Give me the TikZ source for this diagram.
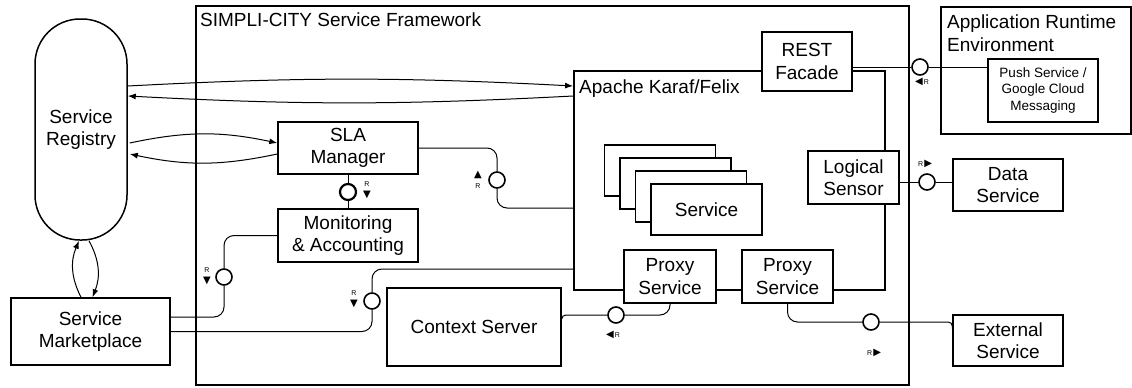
\documentclass[tikz,border=0pt]{standalone}
\usepackage{fontspec}
\setmainfont{Liberation Sans}
\newfontfamily\symfont{DejaVu Sans}
\usetikzlibrary{arrows.meta}

% small direction marks next to the interfaces
\newcommand{\tridown}{{\symfont\fontsize{10}{10}\selectfont ▼}}
\newcommand{\triup}{{\symfont\fontsize{10}{10}\selectfont ▲}}
\newcommand{\trileft}{{\symfont\fontsize{10}{10}\selectfont ◀}}
\newcommand{\triright}{{\symfont\fontsize{10}{10}\selectfont ▶}}

\begin{document}
\begin{tikzpicture}[x=1pt,y=-1pt,
        font=\fontsize{19}{22.5}\selectfont,
        box/.style={draw, line width=1.5pt, fill=white, align=center, inner sep=0pt},
        iface/.style={draw, circle, line width=1.6pt, fill=white, minimum size=16pt, inner sep=0pt},
        link/.style={line width=1pt, rounded corners=10pt},
        call/.style={line width=1pt, -{Latex[length=8pt,width=6pt]}},
        rtag/.style={inner sep=0pt, align=center, font=\fontsize{7}{7}\selectfont},
    ]
    \useasboundingbox (0,0) rectangle (1132,388);

    % framework and outside parts
    \node[box, line width=2pt, minimum width=713pt, minimum height=379pt] (frame) at (552.5,195.5) {};
    \node[anchor=base west, inner sep=0pt] (frametitle) at (200,27) {SIMPLI-CITY Service Framework};

    \node[box, rounded corners=45pt, minimum width=92pt, minimum height=221pt] (registry) at (81,129.5) {Service\\Registry};
    \node[box, minimum width=159pt, minimum height=67pt] (market) at (90.5,331.5) {Service\\Marketplace};

    \node[box, line width=1.2pt, minimum width=190pt, minimum height=127pt] (runtime) at (1036,70.5) {};
    \node[anchor=north west, align=left, inner sep=0pt] (runtimetitle) at (947,15) {Application Runtime\\Environment};
    \node[box, line width=1.2pt, minimum width=110pt, minimum height=63pt, font=\fontsize{13.5}{16.7}\selectfont] (push) at (1043,90.5) {Push Service /\\Google Cloud\\Messaging};

    \node[box, minimum width=110pt, minimum height=52pt] (data) at (1008,185) {Data\\Service};
    \node[box, minimum width=110pt, minimum height=51pt] (external) at (1008,340.5) {External\\Service};

    % osgi container
    \node[box, line width=1.8pt, minimum width=311pt, minimum height=219pt] (karaf) at (729.5,180.5) {};
    \node[anchor=base west, inner sep=0pt] (karaftitle) at (579,93) {Apache Karaf/Felix};

    \node[box, minimum width=111pt, minimum height=51pt] (svcA) at (660,170.5) {};
    \node[box, minimum width=111pt, minimum height=51pt] (svcB) at (675.5,183.5) {};
    \node[box, minimum width=111pt, minimum height=51pt] (svcC) at (691,196.5) {};
    \node[box, minimum width=111pt, minimum height=51pt] (svcD) at (706.5,209.5) {Service};

    \node[box, minimum width=90pt, minimum height=59pt] (rest) at (807,61.5) {REST\\Facade};
    \node[box, minimum width=91pt, minimum height=53pt] (sensor) at (853.5,177.5) {Logical\\Sensor};
    \node[box, minimum width=92pt, minimum height=53pt] (proxyA) at (670,276.5) {Proxy\\Service};
    \node[box, minimum width=91pt, minimum height=53pt] (proxyB) at (787.5,276.5) {Proxy\\Service};

    % framework components
    \node[box, minimum width=140pt, minimum height=52pt] (sla) at (348,148) {SLA\\Manager};
    \node[box, minimum width=140pt, minimum height=53pt] (monitor) at (348,235.5) {Monitoring\\\& Accounting};
    \node[box, minimum width=174pt, minimum height=78pt] (context) at (474,327) {Context Server};

    % interfaces
    \node[iface] (iRest) at (920,67) {};
    \node[iface, line width=2.2pt] (iSla) at (348,192) {};
    \node[iface] (iKaraf) at (497,180) {};
    \node[iface] (iMon) at (224,277) {};
    \node[iface] (iMkt) at (372,301) {};
    \node[iface] (iCtx) at (616,315) {};
    \node[iface] (iExt) at (871,322) {};
    \node[iface] (iData) at (927,182) {};

    \node[rtag] (tRest) at (922,82) {\trileft\,R};
    \node[rtag] (tSla) at (367,190) {R\\[4pt]\tridown};
    \node[rtag] (tKaraf) at (478,180) {\triup\\[4pt]R};
    \node[rtag] (tMon) at (207,276) {R\\[4pt]\tridown};
    \node[rtag] (tMkt) at (354,299) {R\\[4pt]\tridown};
    \node[rtag] (tCtx) at (613,335) {\trileft\,R};
    \node[rtag] (tExt) at (874,353) {R\,\triright};
    \node[rtag] (tData) at (925,164) {R\,\triright};

    % wiring
    \draw[link] (rest.east |- iRest) -- (iRest) -- (push.west |- iRest);
    \draw[link] (sensor.east |- iData) -- (iData) -- (data.west |- iData);
    \draw[link] (sla) -- (iSla) -- (monitor);
    \draw[link] (sla.east) -| (iKaraf);
    \draw[link] (iKaraf) |- ([yshift=-27.5pt]karaf.west);
    \draw[link] (monitor.west) -| (iMon);
    \draw[link] (iMon) |- ([yshift=14.5pt]market.east);
    \draw[link] (market.east) -| (iMkt);
    \draw[link] (iMkt) |- ([yshift=-88.5pt]karaf.west);
    \draw[link, rounded corners=4pt] ([yshift=8pt]context.east) -- (context.east |- iCtx) -- (iCtx);
    \draw[link] (iCtx) -| (proxyA);
    \draw[link] (proxyB) |- (iExt);
    \draw[link, rounded corners=4pt] (iExt) -- (external.west |- iExt) -- ([yshift=12pt]external.west);

    % registry lookups
    \draw[call] ([yshift=43.5pt]registry.east) to[bend left=3] ([yshift=94.5pt]karaf.west);
    \draw[call] ([yshift=84.5pt]karaf.west) to[bend left=3] ([yshift=33.5pt]registry.east);
    \draw[call] ([xshift=2pt,yshift=-13.5pt]registry.east) to[bend left=12] ([yshift=5pt]sla.west);
    \draw[call] ([yshift=-6pt]sla.west) to[bend left=12] ([xshift=2pt,yshift=-24.5pt]registry.east);
    \draw[call] ([xshift=-9.5pt]market.north) to[bend left=25] ([xshift=-2pt]registry.south);
    \draw[call] ([xshift=8pt]registry.south) to[bend left=25] ([xshift=2pt]market.north);

\end{tikzpicture}
\end{document}
